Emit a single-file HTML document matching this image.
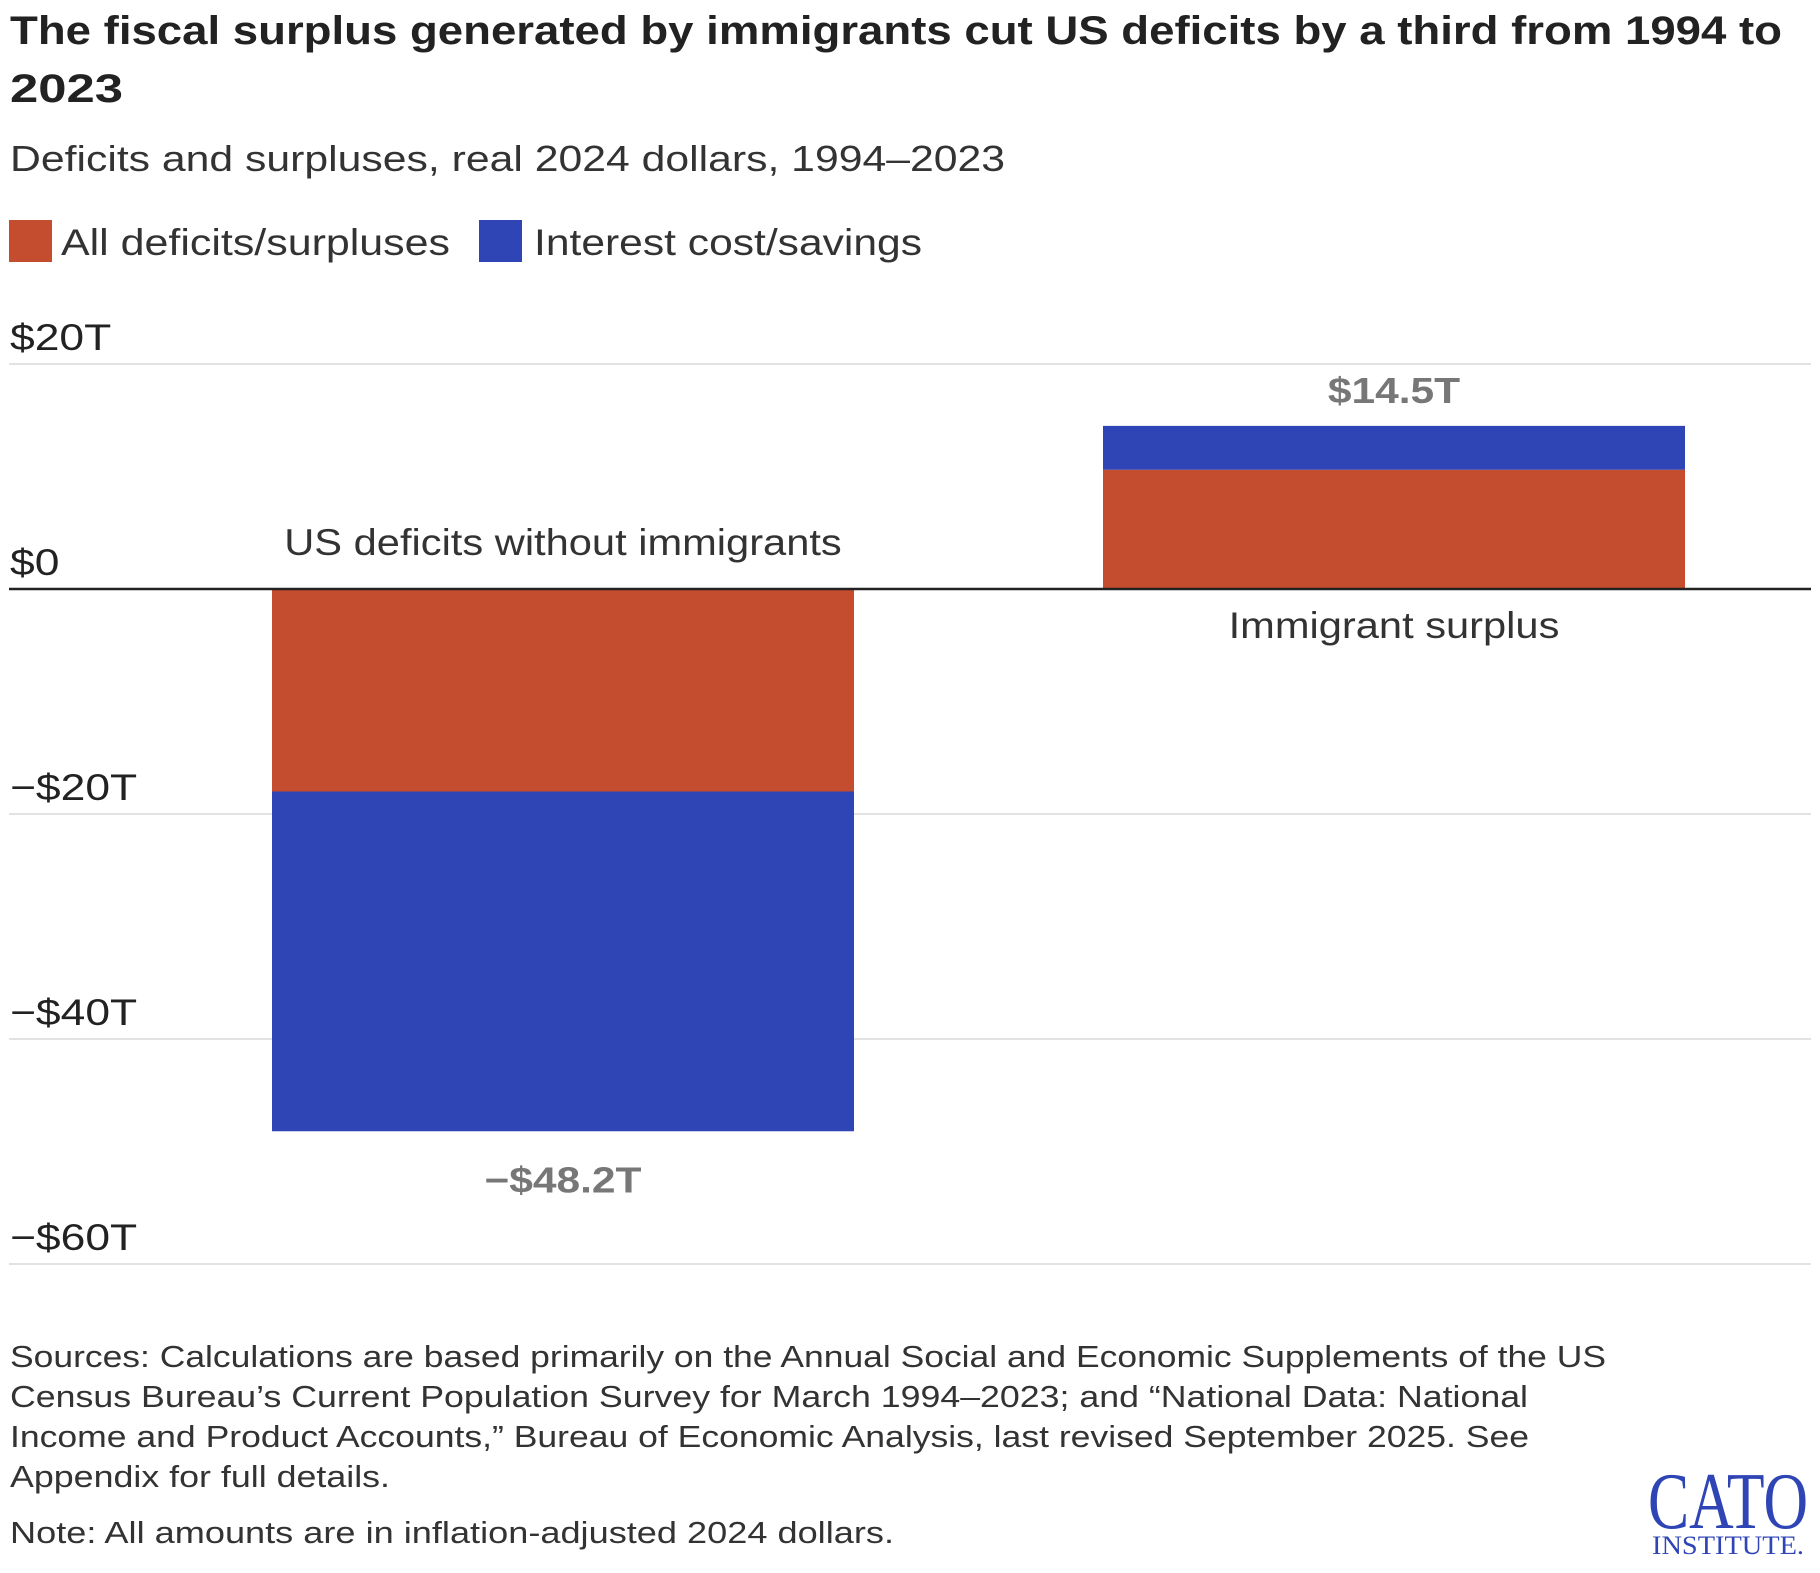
<!DOCTYPE html>
<html><head><meta charset="utf-8"><style>
body{margin:0;background:#fff;}
svg text{font-family:"Liberation Sans",sans-serif;}
</style></head><body>
<svg width="1820" height="1568" xmlns="http://www.w3.org/2000/svg">
<text x="10" y="44" font-size="40" font-weight="bold" fill="#222" textLength="1772" lengthAdjust="spacingAndGlyphs">The fiscal surplus generated by immigrants cut US deficits by a third from 1994 to</text>
<text x="10" y="102" font-size="40" font-weight="bold" fill="#222" textLength="113" lengthAdjust="spacingAndGlyphs">2023</text>
<text x="10" y="171" font-size="36" fill="#333" textLength="995" lengthAdjust="spacingAndGlyphs">Deficits and surpluses, real 2024 dollars, 1994–2023</text>
<g>
<rect x="9" y="220" width="43" height="42" fill="#c44d2f"/>
<text x="61" y="255" font-size="37" fill="#333" textLength="389" lengthAdjust="spacingAndGlyphs">All deficits/surpluses</text>
<rect x="479" y="220" width="43" height="42" fill="#2f45b5"/>
<text x="534" y="255" font-size="37" fill="#333" textLength="388" lengthAdjust="spacingAndGlyphs">Interest cost/savings</text>
</g>
<g id="grid"></g>
<g id="bars"></g>
<g id="labels"></g>
<g font-size="31" fill="#333">
<text x="10" y="1367" textLength="1596" lengthAdjust="spacingAndGlyphs">Sources: Calculations are based primarily on the Annual Social and Economic Supplements of the US</text>
<text x="10" y="1407" textLength="1518" lengthAdjust="spacingAndGlyphs">Census Bureau’s Current Population Survey for March 1994–2023; and “National Data: National</text>
<text x="10" y="1447" textLength="1519" lengthAdjust="spacingAndGlyphs">Income and Product Accounts,” Bureau of Economic Analysis, last revised September 2025. See</text>
<text x="10" y="1487" textLength="380" lengthAdjust="spacingAndGlyphs">Appendix for full details.</text>
<text x="10" y="1543" textLength="884" lengthAdjust="spacingAndGlyphs">Note: All amounts are in inflation-adjusted 2024 dollars.</text>
</g>
<g fill="#2f45b5">
<text x="1728" y="1528" text-anchor="middle" font-size="80" style="font-family:'Liberation Serif',serif" textLength="160" lengthAdjust="spacingAndGlyphs">CATO</text>
<text x="1728" y="1554" text-anchor="middle" font-size="26" style="font-family:'Liberation Serif',serif" textLength="152" lengthAdjust="spacingAndGlyphs">INSTITUTE.</text>
</g>
</svg>
<script>
const categories=["US deficits without immigrants","Immigrant surplus"];
const deficitValues=[-18.0,10.6];
const interestValues=[-30.2,3.9];
const totalLabels=["−$48.2T","$14.5T"];
const ticks=[20,0,-20,-40,-60];
const tickLabels=["$20T","$0","−$20T","−$40T","−$60T"];
const NS="http://www.w3.org/2000/svg";
const y0=589,pxPer=11.25;
function y(v){return y0-v*pxPer;}
const bandX=[272,1103],bandW=582;
function mk(tag,attrs,parent){const e=document.createElementNS(NS,tag);for(const k in attrs)e.setAttribute(k,attrs[k]);parent.appendChild(e);return e;}
function widen(t,f){const w=t.getComputedTextLength();t.setAttribute('textLength',w*f);t.setAttribute('lengthAdjust','spacingAndGlyphs');}
const grid=document.getElementById('grid'),bars=document.getElementById('bars'),lab=document.getElementById('labels');
ticks.forEach((t,i)=>{
 if(t!==0){const l=mk('line',{x1:9,x2:1811,y1:y(t),y2:y(t),stroke:'#e2e2e2','stroke-width':2},grid);
 
 }
 const tx=mk('text',{x:10,y:y(t)-14,'font-size':37,fill:'#222'},grid);tx.textContent=tickLabels[i];
 
 
 widen(tx,1.2);
});
categories.forEach((c,i)=>{
 const d=deficitValues[i],r=interestValues[i],x=bandX[i];
 const r1=mk('rect',{x:x,y:Math.min(y(0),y(d)),width:bandW,height:Math.abs(y(d)-y(0)),fill:'#c44d2f'},bars);
 
 
 const tot=d+r;
 const r2=mk('rect',{x:x,y:Math.min(y(d),y(tot)),width:bandW,height:Math.abs(y(tot)-y(d)),fill:'#2f45b5'},bars);
 
 
 const cx=x+bandW/2;
 const cl=mk('text',{x:cx,y:tot<0?y(0)-34:y(0)+49,'text-anchor':'middle','font-size':37,fill:'#333'},lab);cl.textContent=c;
 
 
 widen(cl,1.125);
 const vl=mk('text',{x:cx,y:tot<0?y(tot)+61:y(tot)-23,'text-anchor':'middle','font-size':36,'font-weight':'bold',fill:'#777'},lab);vl.textContent=totalLabels[i];
 
 
 widen(vl,1.18);
});
const z=mk('line',{x1:9,x2:1811,y1:y0,y2:y0,stroke:'#222','stroke-width':2.5},lab);


</script>
</body></html>
